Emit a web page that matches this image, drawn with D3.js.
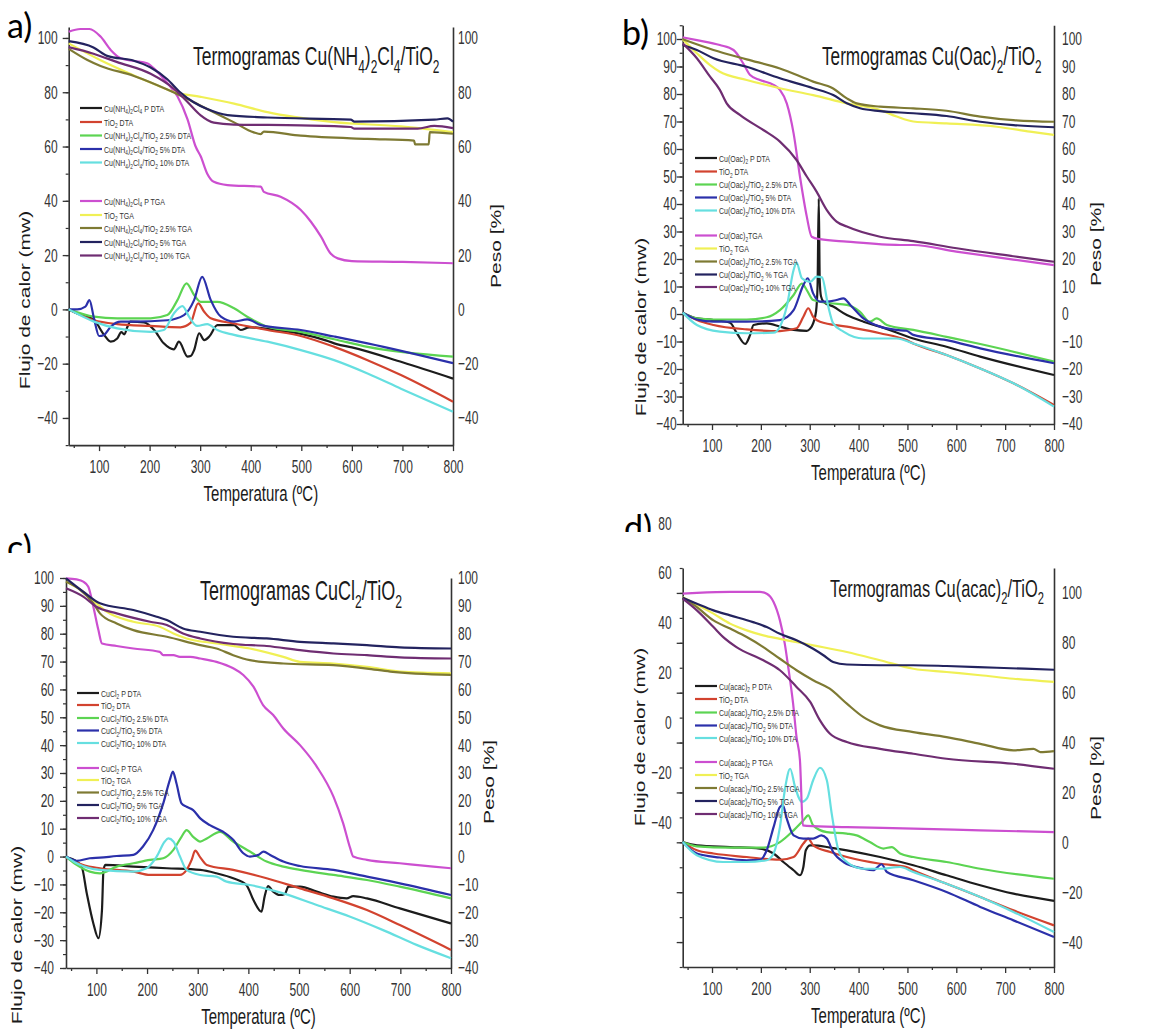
<!DOCTYPE html>
<html><head><meta charset="utf-8">
<script src="https://cdn.jsdelivr.net/npm/d3@7"></script>
<style>html,body{margin:0;padding:0;background:#fff;}svg{display:block;}</style>
</head><body>
<script>
// ---- Temperature axis ----
const tempMajorTicks = [100, 200, 300, 400, 500, 600, 700, 800];
const tempMinorTicks = [50, 150, 250, 350, 450, 550, 650, 750];

// ---- a) Cu(NH4)2Cl4 / TiO2 ----
const aDtaP   = [[40,0],[57,-1.5],[90,-3.9],[110,-9.4],[123,-11.9],[136,-10.7],[144,-8.4],[150,-9.2],[156,-6.5],[162,-4.5],[189,-4.8],[209,-7.6],[228,-12.5],[248,-14.7],[258,-11.9],[275,-17.4],[281,-17.2],[288,-15],[298,-8.8],[308,-11.3],[318,-10],[334,-5.8],[367,-5.8],[380,-7.6],[397,-6.6],[450,-7.6],[500,-9],[550,-11.5],[570,-12.8],[600,-14],[700,-19.5],[800,-25.5]];
const aDtaTiO2 = [[40,0],[90,-4],[136,-5.4],[202,-6.1],[261,-6.6],[281,-5],[296,2.2],[308,-0.9],[321,-3.3],[367,-5.2],[433,-7.6],[499,-9.8],[565,-13.8],[631,-18.7],[697,-24.2],[800,-34]];
const aDta25  = [[40,0],[90,-2.7],[136,-3.3],[202,-3.3],[235,-2.1],[255,3.4],[273,9.6],[288,5.3],[301,2.8],[334,2.8],[367,0.4],[393,-2.7],[433,-6.4],[499,-8.3],[565,-11],[631,-13.8],[800,-17.4]];
const aDta5   = [[40,0],[57,0],[73,1],[81,3.4],[90,-3.3],[100,-9.8],[110,-9.4],[123,-6.4],[143,-4.5],[169,-4.5],[235,-4],[268,-2.1],[288,3.4],[304,12],[321,3.4],[341,-2.7],[367,-4.5],[393,-3.7],[420,-5.8],[499,-7.6],[565,-10],[631,-12.5],[800,-19.8]];
const aDta10  = [[40,0],[90,-4.5],[136,-7],[202,-8.3],[228,-7.6],[248,-1.5],[265,1.2],[278,-2.7],[294,-6.1],[314,-5.4],[334,-7.6],[367,-9.4],[433,-11.9],[499,-15],[565,-18.7],[631,-23.6],[697,-29.2],[800,-37.7]];
const aTgaP   = [[40,102.3],[63,103.3],[81,103.3],[103,100.5],[123,95.6],[143,92.5],[169,91.5],[195,90.7],[215,87.6],[235,83.4],[255,78.5],[275,70],[291,60],[301,56.4],[314,50],[327,47],[354,45.8],[420,45.2],[426,43.3],[459,41.5],[499,36.6],[519,32.3],[539,26.8],[558,20.6],[572,18.8],[600,17.8],[700,17.5],[800,17]];
const aTgaTiO2 = [[40,98],[103,91.8],[169,86.2],[215,82.6],[248,80.1],[301,78.3],[367,75.8],[433,72.7],[486,70.9],[565,69],[697,67.4],[800,65.3]];
const aTga25  = [[40,96],[76,92],[103,89.7],[169,86],[235,81],[275,77.5],[314,73.8],[367,68.9],[406,65.2],[420,64.6],[426,65.5],[499,64],[631,62.8],[723,62.2],[725,60.8],[752,60.8],[754,65.3],[800,64.7]];
const aTga5   = [[40,98.8],[89,96.5],[116,93.4],[169,91.6],[202,89.1],[235,84.8],[261,79.9],[288,76.2],[314,73.8],[354,71.6],[433,70.7],[598,69.9],[605,69.2],[763,69.9],[789,70.4],[800,69.2]];
const aTga10  = [[40,96.6],[89,94.2],[136,91.1],[202,86.8],[248,81.3],[275,76.4],[301,71.5],[327,68.8],[367,68.1],[499,67.8],[598,67.2],[605,66.6],[730,66.6],[763,67.6],[800,66.8]];
const aNames = ["Cu(NH_4)_2Cl_4 P DTA","TiO_2 DTA","Cu(NH_4)_2Cl_4/TiO_2 2.5% DTA","Cu(NH_4)_2Cl_4/TiO_2 5% DTA","Cu(NH_4)_2Cl_4/TiO_2 10% DTA",
                "Cu(NH_4)_2Cl_4 P TGA","TiO_2 TGA","Cu(NH_4)_2Cl_4/TiO_2 2.5% TGA","Cu(NH_4)_2Cl_4/TiO_2 5% TGA","Cu(NH_4)_2Cl_4/TiO_2 10% TGA"];
const aTicks = [-40,-20,0,20,40,60,80,100];

// ---- b) Cu(Oac)2 / TiO2 ----
const bDtaP   = [[40,0.5],[69,-1.6],[103,-2.2],[137,-3.2],[151,-7],[168,-10.9],[178,-7.6],[185,-4],[212,-3.4],[239,-4.6],[267,-5.8],[294,-6.1],[300,-5.5],[307,-3.4],[313,1],[316,10],[318.5,42],[320.5,12],[323,6.5],[328,4.5],[348,2.7],[376,-0.4],[410,-2.8],[444,-4.6],[512,-8.9],[580,-11.9],[649,-15.5],[800,-22.2]];
const bDtaTiO2 = [[40,0.5],[69,-2.2],[103,-4],[171,-5.6],[239,-6.2],[273,-5.2],[287,-1],[297,2.1],[307,-1],[321,-2.8],[376,-4.6],[444,-7],[498,-9.5],[512,-10.7],[580,-14.9],[649,-19.8],[717,-25.2],[800,-33.1]];
const bDta25  = [[40,0.5],[69,-1.6],[103,-2],[171,-2],[212,-1.2],[239,1.4],[267,6.9],[284,11.1],[294,8.7],[307,5.1],[342,3.9],[376,3.3],[403,0.8],[423,-2.8],[437,-1.6],[458,-4],[512,-5.8],[580,-8.3],[649,-10.9],[800,-17.3]];
const bDta5   = [[40,0.5],[69,-2],[103,-2.8],[171,-2.8],[239,-2.2],[267,1.4],[287,10.5],[296,13],[307,7.5],[321,4.5],[335,4.5],[355,5.1],[369,5.7],[383,3.3],[410,-1.6],[444,-4.6],[478,-5.8],[498,-6.1],[512,-7.6],[580,-9.5],[649,-12.5],[800,-17.9]];
const bDta10  = [[40,0.5],[69,-4],[116,-6.4],[171,-7],[226,-6.8],[239,-4.6],[253,2.7],[267,16],[273,18.7],[284,13],[301,11.7],[314,13.6],[325,13.3],[338,2.7],[348,-3.4],[369,-6.4],[410,-8.9],[478,-8.9],[512,-10.7],[580,-14.9],[649,-19.8],[717,-25.2],[800,-33.7]];
const bTgaP   = [[40,100.6],[69,99.6],[116,97.8],[144,96],[164,91.1],[178,86.9],[198,85.1],[226,83.3],[239,81.5],[253,76.6],[267,65.7],[280,50],[294,35.4],[304,28.1],[321,27.2],[376,26.3],[485,25.1],[512,25.1],[600,22.7],[717,19.8],[800,17.8]];
const bTgaTiO2 = [[40,99.9],[69,94.8],[96,90.5],[116,88.1],[171,85.1],[239,82.1],[307,79.6],[376,76.6],[444,74.2],[478,71.8],[512,70],[580,69.3],[683,68.1],[751,66.3],[800,65.1]];
const bTga25  = [[40,99.9],[103,96],[171,92.6],[239,89.3],[307,84.5],[348,82],[376,78.4],[396,76.6],[444,75.4],[512,74.8],[580,73.9],[649,71.8],[717,70.5],[800,69.9]];
const bTga5   = [[40,97.8],[69,96],[103,93],[171,89.9],[239,85.7],[307,82.1],[348,79.6],[376,76.6],[403,74.8],[444,73.8],[512,73],[580,72],[649,69.9],[717,68.7],[800,67.9]];
const bTga10  = [[40,98.4],[69,93],[96,86.3],[116,81.5],[130,76.6],[157,72.4],[205,66.9],[239,62.7],[273,56],[294,50],[314,44.5],[335,37.8],[355,33.6],[376,31.8],[444,28.1],[512,26.5],[601,23.9],[717,21],[800,19]];
const bNames = ["Cu(Oac)_2 P DTA","TiO_2 DTA","Cu(Oac)_2/TiO_2 2.5% DTA","Cu(Oac)_2/TiO_2 5% DTA","Cu(Oac)_2/TiO_2 10% DTA",
                "Cu(Oac)_2TGA","TiO_2 TGA","Cu(Oac)_2/TiO_2 2.5% TGA","Cu(Oac)_2/TiO_2 % TGA","Cu(Oac)_2/TiO_2 10% TGA"];
const bTicks = [-40,-30,-20,-10,0,10,20,30,40,50,60,70,80,90,100];

// ---- c) CuCl2 / TiO2 ----
const cDtaP   = [[40,-0.3],[61,-1.8],[71,-3.6],[81,-13.2],[94,-24],[104,-29.3],[111,-19.2],[114,-4.8],[118,-3],[173,-3.6],[239,-4.2],[305,-4.8],[337,-6],[370,-7.8],[396,-10.2],[410,-15.6],[426,-19.8],[432,-14.4],[439,-10.6],[449,-12.6],[462,-13.8],[472,-13.4],[479,-10.8],[502,-10.8],[535,-12.6],[568,-14.4],[594,-15],[607,-14.2],[634,-15],[699,-18.6],[800,-24]];
const cDtaTiO2 = [[40,-0.3],[74,-3],[107,-4.2],[173,-5.4],[206,-6.6],[265,-6.6],[278,-4.8],[288,-1.2],[295,2.1],[305,-0.3],[318,-3],[370,-4.8],[436,-7.8],[502,-11.4],[568,-15],[634,-19.2],[699,-24.6],[800,-33.5]];
const cDta25  = [[40,0],[61,-3],[87,-5.4],[107,-6],[140,-3.6],[173,-2.4],[206,-1.2],[232,-0.6],[252,2.4],[268,7.1],[278,9.5],[291,7.1],[305,5.4],[318,6.5],[344,8.9],[370,5.4],[403,1.8],[436,-1.8],[469,-3.6],[502,-4.8],[568,-6.6],[634,-8.4],[699,-10.8],[800,-15]];
const cDta5   = [[40,0],[61,-1.5],[87,-0.6],[107,-0.4],[140,0.2],[173,0.6],[192,3.6],[212,9.5],[232,19.1],[245,27.5],[251,30.5],[258,26.3],[268,19.1],[278,17.9],[291,16.7],[305,13.7],[324,11.3],[350,8.9],[370,6],[390,1.2],[403,0],[420,0.6],[430,1.8],[443,0.6],[469,-1.8],[502,-3.4],[568,-4.8],[634,-7.2],[699,-9.6],[800,-13.8]];
const cDta10  = [[40,0],[61,-2.4],[107,-4.8],[173,-5.4],[199,-4.2],[219,0],[235,5.4],[242,6.5],[252,5.4],[265,0],[278,-4.8],[305,-6.6],[337,-7.2],[357,-9],[403,-10.2],[469,-13.2],[535,-17.4],[601,-21.6],[666,-26.4],[732,-31.7],[800,-36.5]];
const cTgaP   = [[40,99.9],[61,99.5],[74,98.7],[84,96.9],[94,89.7],[104,81.3],[111,76.5],[140,75.6],[173,74.7],[225,73.5],[232,72.3],[252,72.3],[265,71.7],[285,71.7],[305,71.1],[337,69.9],[370,67.6],[390,65.2],[410,61],[429,54.4],[449,50.8],[469,46],[502,40],[535,32.3],[568,21.5],[587,12],[601,3],[607,0],[634,-1.2],[699,-2.4],[765,-3.6],[800,-4.2]];
const cTgaTiO2 = [[40,98.7],[74,95.1],[100,90.9],[120,87.9],[173,84.3],[225,82.5],[252,80.1],[278,78.3],[337,76.5],[403,74.7],[469,71.7],[502,69.9],[568,69.3],[634,68.1],[699,66.4],[800,65.8]];
const cTga25  = [[40,98.7],[68,95.7],[94,90.9],[107,87.3],[140,83.7],[173,81.3],[239,78.9],[305,75.9],[337,74.7],[370,72.3],[403,70.5],[469,69.3],[568,68.7],[634,67.5],[680,66.4],[800,65.2]];
const cTga5   = [[40,99.9],[74,95.1],[107,90.9],[173,88.5],[219,86.1],[239,84.9],[271,81.9],[305,80.7],[370,78.9],[436,78.3],[502,77.1],[568,76.5],[634,75.9],[699,75.1],[800,74.7]];
const cTga10  = [[40,96.3],[74,93.3],[100,89.7],[140,87.3],[206,84.3],[239,83.1],[271,80.1],[305,78.3],[370,76.3],[436,75.6],[502,74.1],[568,72.9],[634,72.3],[699,71.5],[800,71.1]];
const cNames = ["CuCl_2 P DTA","TiO_2 DTA","CuCl_2/TiO_2 2.5% DTA","CuCl_2/TiO_2 5% DTA","CuCl_2/TiO_2 10% DTA",
                "CuCl_2 P TGA","TiO_2 TGA","CuCl_2/TiO_2 2.5% TGA","CuCl_2/TiO_2 5% TGA","CuCl_2/TiO_2 10% TGA"];
const cTicks = [-40,-30,-20,-10,0,10,20,30,40,50,60,70,80,90,100];

// ---- d) Cu(acac)2 / TiO2 ----
const dDtaP   = [[40,0.1],[69,-1.2],[137,-1.9],[198,-2.5],[226,-4.5],[246,-7.9],[267,-11.2],[280,-13.2],[287,-9.9],[292,-3.2],[301,-1.2],[307,-1.2],[342,-2.1],[376,-3.2],[444,-5.9],[512,-9.2],[580,-13.2],[649,-17.2],[717,-20.6],[800,-23.5]];
const dDtaTiO2 = [[40,0.1],[69,-3.2],[103,-4.5],[171,-5.9],[239,-7],[267,-5.9],[287,-0.5],[297,1.5],[307,-1.2],[342,-3.9],[376,-5.9],[444,-8.6],[498,-9.9],[512,-11.2],[580,-16.6],[649,-21.9],[717,-27.3],[800,-33.3]];
const dDta25  = [[40,0.1],[69,-1.6],[137,-2.1],[205,-2.1],[239,0.1],[267,4.8],[287,8.8],[297,10.8],[307,6.8],[335,4.1],[376,3.5],[396,2.8],[423,0.1],[451,-2.5],[468,-1.9],[485,-4.5],[512,-5.9],[580,-7.9],[649,-10.6],[800,-14.6]];
const dDta5   = [[40,0.1],[69,-4.5],[116,-6.1],[171,-7.2],[198,-7],[212,-3.2],[226,6.1],[239,14.2],[245,14.8],[253,9.5],[267,2.8],[287,1.5],[307,1.5],[324,2.8],[335,1.5],[348,-3.9],[369,-7.9],[410,-10.6],[430,-11.2],[447,-8.8],[458,-11.9],[512,-15.2],[580,-19.9],[649,-25.9],[717,-31.3],[800,-38]];
const dDta10  = [[40,0.1],[69,-5.2],[123,-7.9],[171,-7.9],[212,-7.2],[226,-4.5],[239,6.1],[250,22.2],[260,29.5],[270,22.2],[284,16.2],[294,17.5],[307,24.9],[321,29.9],[335,24.9],[345,11.5],[359,-3.2],[376,-7.9],[410,-10.6],[444,-10.6],[485,-9.9],[512,-11.9],[580,-16.6],[649,-21.9],[717,-27.9],[800,-36]];
const dTgaP   = [[40,99.7],[69,100],[137,100.4],[198,100.4],[212,99.7],[226,96.4],[239,89],[249,79.6],[256,70.3],[266,55.6],[273,42.2],[280,32.9],[286,6.8],[294,6.6],[376,6.1],[512,5.5],[649,4.8],[800,4.1]];
const dTgaTiO2 = [[40,98.3],[103,91.7],[137,87.7],[171,85],[205,83],[239,81.6],[307,79],[376,76.3],[444,73],[512,69.6],[580,68.3],[649,67],[717,65.6],[800,64.3]];
const dTga25  = [[40,98.1],[69,94.3],[103,89],[137,85.7],[171,82.3],[205,78.3],[239,73.6],[273,69],[307,65],[341,61.6],[376,55.6],[410,50.2],[444,46.9],[512,44.2],[580,42.2],[649,39.5],[717,36.9],[758,37.5],[772,36.2],[800,36.6]];
const dTga5   = [[40,98.1],[69,95.7],[103,93],[137,91],[184,88.3],[212,86.3],[239,83.6],[273,81],[307,77.6],[328,75],[348,72.3],[376,71.3],[444,71],[512,71],[580,70.7],[683,70],[800,69.2]];
const dTga10  = [[40,97.7],[69,93],[103,86.3],[123,82.3],[150,78.3],[205,73],[239,69],[273,62.3],[301,56.3],[321,48.9],[341,43.6],[376,40.2],[444,37.5],[512,35.5],[580,33.5],[717,31.5],[800,29.5]];
const dNames = ["Cu(acac)_2 P DTA","TiO_2 DTA","Cu(acac)_2/TiO_2 2.5% DTA","Cu(acac)_2/TiO_2 5% DTA","Cu(acac)_2/TiO_2 10% DTA",
                "Cu(acac)_2 P TGA","TiO_2 TGA","Cu(acac)_2/TiO_2 2.5% TGA","Cu(acac)_2/TiO_2 5% TGA","Cu(acac)_2/TiO_2 10% TGA"];
const dRightTicks = [-40,-20,0,20,40,60,80,100];
const dLeftLabels = [80,60,40,20,0,-20,-40];

// ---- styling ----
const seriesColors = ["#1c1c1c","#d2432f","#5cd452","#2b30aa","#66dfe0","#cc4fd0","#f0f055","#7e7a33","#23235f","#6f2d72"];
const FONT = "'Liberation Sans', Arial, sans-serif";
const K_TICK = 1.55, K_TITLE = 1.5, K_AXIS = 1.5, K_LEG = 1.4;

const svg = d3.select("body").append("svg").attr("width", 1152).attr("height", 1033);
svg.append("rect").attr("width", 1152).attr("height", 1033).attr("fill", "#fff");

// text with "_x" subscripts
function rich(textSel, str, size) {
  const re = /_(.)/g, sd = size * 0.3;
  let last = 0, m, shifted = false;
  while ((m = re.exec(str))) {
    if (m.index > last) { textSel.append("tspan").attr("dy", shifted ? -sd : 0).text(str.slice(last, m.index)); shifted = false; }
    textSel.append("tspan").attr("font-size", size * 0.68).attr("dy", shifted ? 0 : sd).text(m[1]);
    shifted = true; last = m.index + 2;
  }
  if (last < str.length) textSel.append("tspan").attr("dy", shifted ? -sd : 0).text(str.slice(last));
}
function label(parent, x, y, str, o) {
  const t = parent.append("text")
    .attr("transform", `translate(${x},${y}) scale(1,${o.k || 1})${o.rot ? " rotate(-90)" : ""}`)
    .attr("font-family", o.font || FONT).attr("font-size", o.size)
    .attr("fill", o.fill || "#222").attr("text-anchor", o.anchor || "start");
  rich(t, str, o.size);
  return t;
}
function styleAxis(g) {
  g.select(".domain").attr("stroke", "#333").attr("stroke-width", 1.6);
  g.selectAll(".tick line").attr("stroke", "#333").attr("stroke-width", 1.3);
  g.selectAll("text").attr("font-family", FONT).attr("font-size", 12).attr("fill", "#333");
}

const panels = [
  { letter: "a)", lx: 7, ly: 38, clip: null, xr: [68.7, 453], yd: [-50, 104], yr: [445.1, 27.1],
    series: [aDtaP,aDtaTiO2,aDta25,aDta5,aDta10,aTgaP,aTgaTiO2,aTga25,aTga5,aTga10], names: aNames,
    leftTicks: aTicks, rightTicks: aTicks, minorStep: 10, lPad: 5, rPad: 5,
    title: "Termogramas Cu(NH_4)_2Cl_4/TiO_2", titleSize: 17.5, tx: 193, ty: 65,
    legX: 80, legRows: [108,122,135.5,149,162.5,201,215,228,242,255.5],
    yTitle: [30, 300], pTitle: [501, 246] },
  { letter: "b)", lx: 622, ly: 45, clip: null, xr: [682.7, 1054], yd: [-40, 105], yr: [424, 25.25],
    series: [bDtaP,bDtaTiO2,bDta25,bDta5,bDta10,bTgaP,bTgaTiO2,bTga25,bTga5,bTga10], names: bNames,
    leftTicks: bTicks, rightTicks: bTicks, minorStep: 5, lPad: 0, rPad: 8,
    title: "Termogramas Cu(Oac)_2/TiO_2", titleSize: 17.2, tx: 822, ty: 65,
    legX: 695, legRows: [158,171.5,184.5,197.5,210.5,235.5,248.5,261.5,274.5,287],
    yTitle: [646, 327], pTitle: [1101, 244] },
  { letter: "c)", lx: 7, ly: 560, clip: 553, xr: [66, 451], yd: [-40, 100], yr: [968, 578],
    series: [cDtaP,cDtaTiO2,cDta25,cDta5,cDta10,cTgaP,cTgaTiO2,cTga25,cTga5,cTga10], names: cNames,
    leftTicks: cTicks, rightTicks: cTicks, minorStep: 5, lPad: 6, rPad: 7,
    title: "Termogramas CuCl_2/TiO_2", titleSize: 18, tx: 200, ty: 600,
    legX: 77, legRows: [693,705,718,730.5,743,768,780,792.5,805,818],
    yTitle: [22, 935], pTitle: [494, 782] },
  { letter: "d)", lx: 624, ly: 540, clip: 532, xr: [682.7, 1054], yd: [-50, 110], yr: [967, 568],
    series: [dDtaP,dDtaTiO2,dDta25,dDta5,dDta10,dTgaP,dTgaTiO2,dTga25,dTga5,dTga10], names: dNames,
    leftTicks: null, rightTicks: dRightTicks, minorStep: 10, lPad: 6, rPad: 8,
    title: "Termogramas Cu(acac)_2/TiO_2", titleSize: 16.4, tx: 830, ty: 597,
    legX: 695, legRows: [686,699,712.5,725.5,738,762,775,788,801,814],
    yTitle: [645, 737], pTitle: [1101, 778] }
];

panels.forEach((p, pi) => {
  const g = svg.append("g");
  const x = d3.scaleLinear().domain([40, 800]).range(p.xr);
  const y = d3.scaleLinear().domain(p.yd).range(p.yr);
  const x0 = p.xr[0], x1 = p.xr[1], yb = p.yr[0];

  // bottom axis: majors with labels, minors without
  const xMinor = g.append("g").attr("transform", `translate(0,${yb})`)
    .call(d3.axisBottom(x).tickValues(tempMinorTicks).tickSize(3).tickSizeOuter(0).tickFormat(""));
  xMinor.select(".domain").remove();
  xMinor.selectAll(".tick line").attr("stroke", "#333").attr("stroke-width", 1.3);
  const xAx = g.append("g").attr("transform", `translate(0,${yb})`)
    .call(d3.axisBottom(x).tickValues(tempMajorTicks).tickSize(6).tickSizeOuter(0));
  styleAxis(xAx);
  xAx.selectAll("text").attr("y", 28 / K_TICK).attr("dy", 0).attr("transform", `scale(1,${K_TICK})`);

  // left axis
  const minorVals = d3.range(p.yd[0] - (p.yd[0] % p.minorStep), p.yd[1] + 0.001, p.minorStep)
    .filter(v => v >= p.yd[0] && v <= p.yd[1]);
  const lMinor = g.append("g").attr("transform", `translate(${x0},0)`)
    .call(d3.axisLeft(y).tickValues(minorVals).tickSize(3).tickSizeOuter(0).tickFormat(""));
  lMinor.select(".domain").remove();
  lMinor.selectAll(".tick line").attr("stroke", "#333").attr("stroke-width", 1.2);
  const majorVals = p.leftTicks || dRightTicks;
  const lAx = g.append("g").attr("transform", `translate(${x0},0)`)
    .call(d3.axisLeft(y).tickValues(majorVals).tickSize(6).tickSizeOuter(0).tickPadding(p.lPad));
  styleAxis(lAx);
  if (p.leftTicks) {
    lAx.selectAll("text").attr("transform", `scale(1,${K_TICK})`);
  } else {
    // labels of this axis sit on their own offset scale
    lAx.selectAll("text").remove();
    const yLbl = d3.scaleLinear().domain([-98, 62]).range([967, 568]);
    const lLbl = g.append("g").attr("transform", `translate(${x0},0)`)
      .call(d3.axisLeft(yLbl).tickValues(dLeftLabels).tickSize(0).tickPadding(11));
    lLbl.select(".domain").remove();
    styleAxis(lLbl);
    lLbl.selectAll("text").attr("transform", `scale(1,${K_TICK})`);
  }

  // right axis (labels only)
  const rAx = g.append("g").attr("transform", `translate(${x1},0)`)
    .call(d3.axisRight(y).tickValues(p.rightTicks).tickSize(0).tickSizeOuter(0).tickPadding(p.rPad));
  styleAxis(rAx);
  rAx.selectAll("text").attr("transform", `scale(1,${K_TICK})`);

  // curves
  const line = d3.line().x(d => x(d[0])).y(d => y(d[1])).curve(d3.curveMonotoneX);
  p.series.forEach((s, i) => {
    g.append("path").datum(s).attr("d", line).attr("fill", "none")
      .attr("stroke", seriesColors[i]).attr("stroke-width", 2.2).attr("stroke-linejoin", "round");
  });

  // legend
  p.names.forEach((n, i) => {
    const ry = p.legRows[i];
    g.append("line").attr("x1", p.legX).attr("x2", p.legX + 22).attr("y1", ry).attr("y2", ry)
      .attr("stroke", seriesColors[i]).attr("stroke-width", 2.2);
    label(g, p.legX + 24, ry + 3.5, n, { size: 7, k: K_LEG, fill: "#333" });
  });

  // titles
  label(g, p.tx, p.ty, p.title, { size: p.titleSize, k: K_TITLE, fill: "#1a1a1a" });
  label(g, (x0 + x1) / 2, yb + 56, "Temperatura (ºC)", { size: 15, k: K_AXIS, anchor: "middle", fill: "#1a1a1a" });
  label(g, p.yTitle[0], p.yTitle[1], "Flujo de calor (mw)", { size: 14, k: K_AXIS, anchor: "middle", rot: true, fill: "#1a1a1a" });
  label(g, p.pTitle[0], p.pTitle[1], "Peso [%]", { size: 14, k: K_AXIS, anchor: "middle", rot: true, fill: "#1a1a1a" });

  // panel letter
  const lg = g.append("g");
  if (p.clip) {
    const id = "clip" + pi;
    svg.append("clipPath").attr("id", id).append("rect").attr("x", 0).attr("y", p.clip - 60).attr("width", 1152).attr("height", 60);
    lg.attr("clip-path", `url(#${id})`);
  }
  lg.append("text").attr("x", p.lx).attr("y", p.ly).attr("font-family", "Lato, 'Open Sans', sans-serif")
    .attr("font-size", 34).attr("fill", "#000")
    .text(p.letter);
});
</script>
</body></html>
